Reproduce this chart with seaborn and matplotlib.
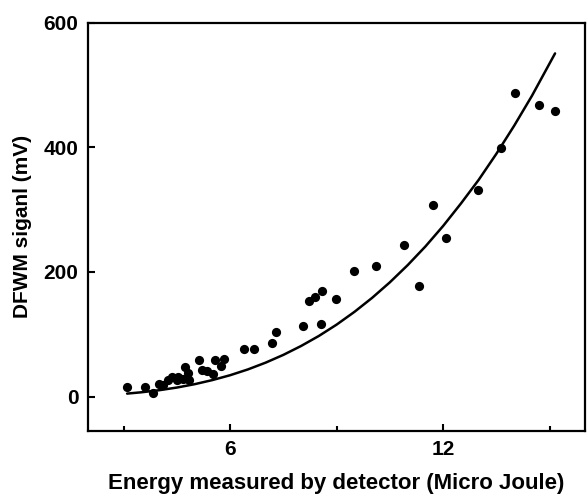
import numpy as np
import pandas as pd
import matplotlib
matplotlib.use("Agg")
import matplotlib.pyplot as plt
import seaborn as sns
from matplotlib.ticker import MultipleLocator

# measured points (energy in micro joule, signal in mV)
energy = [3.11, 3.61, 3.84, 4.00, 4.11, 4.26, 4.37, 4.50, 4.54, 4.68,
          4.73, 4.81, 4.83, 5.13, 5.22, 5.34, 5.53, 5.58, 5.75, 5.83,
          6.40, 6.67, 7.17, 7.30, 8.05, 8.23, 8.38, 8.58, 8.55, 8.99,
          9.50, 10.11, 10.90, 11.31, 11.71, 12.09, 12.98, 13.64, 14.03,
          14.70, 15.14]
signal = [16, 15, 6, 20, 18, 26, 31, 26, 31, 28,
          47, 38, 27, 58, 42, 41, 36, 59, 49, 61,
          76, 76, 86, 103, 113, 154, 160, 170, 116, 157,
          202, 210, 243, 178, 307, 255, 331, 399, 487,
          468, 459]

# fitted curve
fit_energy = [3.1, 3.5, 4, 4.5, 5, 5.5, 6, 6.5, 7, 7.5, 8, 8.5, 9, 9.5,
              10, 10.5, 11, 11.5, 12, 12.5, 13, 13.5, 14, 14.5, 15.15]
fit_signal = [4.7, 6.8, 10.1, 14.4, 19.8, 26.4, 34.2, 43.5, 54.4, 66.9,
              81.2, 97.3, 115.5, 135.9, 158.5, 183.5, 211, 241, 274, 310,
              348, 390, 435, 483, 551]

df = pd.DataFrame({"energy": energy, "signal": signal})
fit = pd.DataFrame({"energy": fit_energy, "signal": fit_signal})

sns.set_style("ticks")
plt.rcParams["font.family"] = ["Liberation Sans", "DejaVu Sans"]
plt.rcParams["font.weight"] = "bold"
for key in ["text.color", "axes.labelcolor", "xtick.color", "ytick.color", "axes.edgecolor"]:
    plt.rcParams[key] = "black"

fig = plt.figure(figsize=(5.87, 4.98), dpi=100)
ax = fig.add_axes([0.150, 0.135, 0.847, 0.819])

sns.lineplot(data=fit, x="energy", y="signal", color="black", linewidth=1.8, ax=ax)
sns.scatterplot(data=df, x="energy", y="signal", color="black", s=44,
                edgecolor="black", linewidth=0, ax=ax)

ax.set_xlim(2, 16)
ax.set_ylim(-55, 600)
ax.set_xticks([6, 12])
ax.xaxis.set_minor_locator(MultipleLocator(3))
ax.set_yticks([0, 200, 400, 600])

for s in ax.spines.values():
    s.set_linewidth(1.6)
    s.set_color("black")
ax.tick_params(axis="both", which="major", direction="in", length=5, width=1.5,
               labelsize=15, pad=7, top=False, right=False, colors="black")
ax.tick_params(axis="x", which="minor", direction="in", length=3.5, width=1.5,
               colors="black")
for lab in ax.get_xticklabels() + ax.get_yticklabels():
    lab.set_fontweight("bold")

ax.set_xlabel("Energy measured by detector (Micro Joule)", fontsize=16,
              fontweight="bold", labelpad=10, color="black")
ax.set_ylabel("DFWM siganl (mV)", fontsize=15, fontweight="bold", labelpad=8,
              color="black")

fig.savefig("out.png", dpi=100, facecolor="white")
